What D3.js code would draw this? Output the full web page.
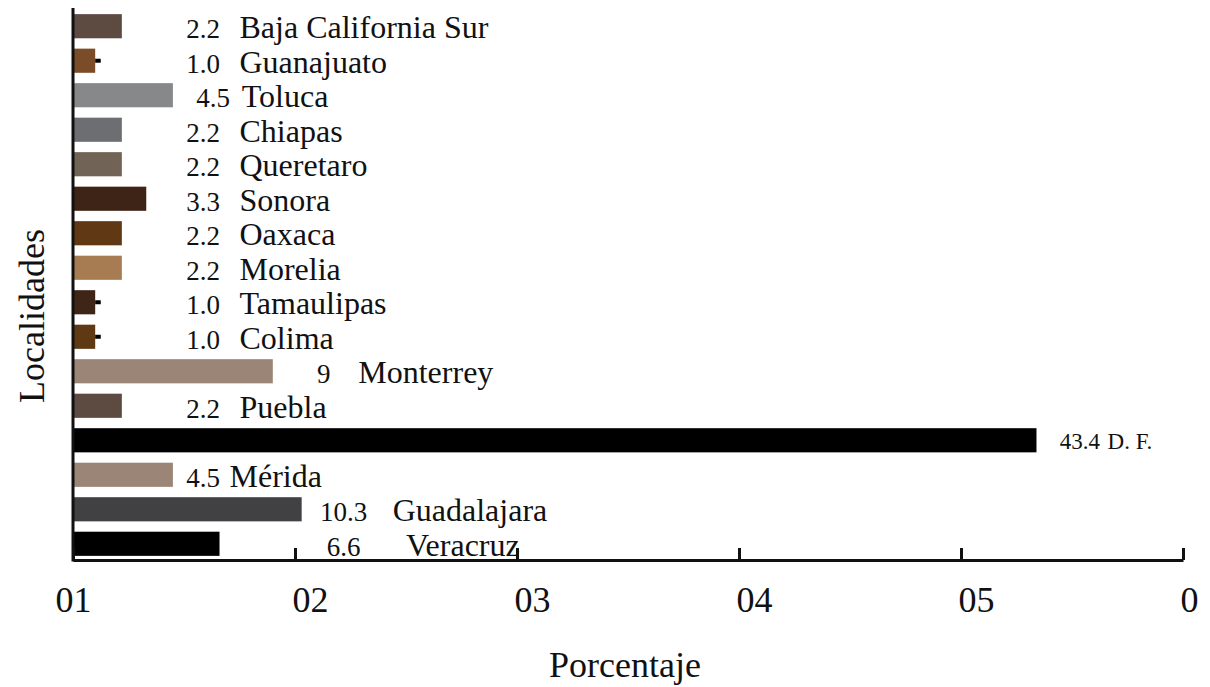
<!doctype html>
<html>
  <head>
    <script src="https://cdnjs.cloudflare.com/ajax/libs/d3/7.8.5/d3.min.js"></script>
    <style>
      body { margin: 0; background: #fff; }
      text {
        font-family: "Liberation Serif", "DejaVu Serif", serif;
        fill: #111;
      }
      .domain, .tick line { stroke: #111; stroke-width: 3px; }
    </style>
  </head>
  <body>
    <svg id="chart" width="1210" height="687"></svg>
    <script>
      // data, top to bottom as drawn
      var localidades = ["Baja California Sur", "Guanajuato", "Toluca", "Chiapas", "Queretaro",
        "Sonora", "Oaxaca", "Morelia", "Tamaulipas", "Colima", "Monterrey", "Puebla",
        "D. F.", "Mérida", "Guadalajara", "Veracruz"];
      var porcentaje = [2.2, 1.0, 4.5, 2.2, 2.2, 3.3, 2.2, 2.2, 1.0, 1.0, 9, 2.2, 43.4, 4.5, 10.3, 6.6];
      var valueText = ["2.2", "1.0", "4.5", "2.2", "2.2", "3.3", "2.2", "2.2", "1.0", "1.0", "9", "2.2", "43.4", "4.5", "10.3", "6.6"];
      var errores = [0, 0.25, 0, 0, 0, 0, 0, 0, 0.25, 0.25, 0, 0, 0, 0, 0, 0];
      var tickValues = [0, 10, 20, 30, 40, 50];
      var tickLabels = ["01", "02", "03", "04", "05", "0"];

      var colores = ["#5d4b42", "#7a4c28", "#87888a", "#6d6e72", "#716457", "#3e2416",
        "#603813", "#a77c52", "#3f2517", "#5f3814", "#9a8577", "#5d4b42",
        "#000000", "#9a8577", "#414042", "#000000"];

      // where the value / name notes sit (in % units), default for short bars
      var notaDefault = { valor: 6.62, nombre: 7.5 };
      var notaEspecial = {
        "Toluca":      { valor: 7.07, nombre: 7.6 },
        "Monterrey":   { valor: 11.6, nombre: 12.85 },
        "D. F.":       { valor: 46.26, nombre: 46.6, small: true },
        "Mérida":      { valor: 6.62, nombre: 7.05 },
        "Guadalajara": { valor: 13.25, nombre: 14.4 },
        "Veracruz":    { valor: 12.95, nombre: 15.0 }
      };

      var svg = d3.select("#chart");

      var x = d3.scaleLinear().domain([0, 50]).range([73, 1183]);
      var y = d3.scaleBand().domain(localidades).range([10, 560])
        .paddingInner(0.3).paddingOuter(0.12);

      var rows = localidades.map((d, i) => ({
        name: d, value: porcentaje[i], text: valueText[i], err: errores[i], color: colores[i]
      }));

      svg.append("g").selectAll("rect")
        .data(rows).enter()
        .append("rect")
          .attr("x", x(0))
          .attr("y", d => y(d.name))
          .attr("width", d => x(d.value) - x(0))
          .attr("height", y.bandwidth())
          .attr("fill", d => d.color);

      // small whiskers
      svg.append("g").selectAll("line")
        .data(rows.filter(d => d.err > 0)).enter()
        .append("line")
          .attr("x1", d => x(d.value))
          .attr("x2", d => x(d.value + d.err))
          .attr("y1", d => y(d.name) + y.bandwidth() / 2)
          .attr("y2", d => y(d.name) + y.bandwidth() / 2)
          .attr("stroke", "#000")
          .attr("stroke-width", 4);

      var notas = svg.append("g").selectAll("g")
        .data(rows).enter()
        .append("g")
          .attr("transform", d => `translate(0,${y(d.name) + y.bandwidth()})`);

      notas.append("text")
        .attr("x", d => x((notaEspecial[d.name] || notaDefault).valor))
        .attr("y", d => (notaEspecial[d.name] || {}).small ? -3 : 0)
        .style("text-anchor", "end")
        .style("font-size", d => (notaEspecial[d.name] || {}).small ? "23px" : "27px")
        .text(d => d.text);

      notas.append("text")
        .attr("x", d => x((notaEspecial[d.name] || notaDefault).nombre))
        .attr("y", d => (notaEspecial[d.name] || {}).small ? -3 : 0)
        .style("text-anchor", "start")
        .style("font-size", d => (notaEspecial[d.name] || {}).small ? "23px" : "32px")
        .text(d => d.name);

      // axes
      var xAxis = d3.axisBottom(x)
        .tickValues(tickValues)
        .tickFormat((d, i) => tickLabels[i])
        .tickSizeInner(-12)
        .tickSizeOuter(0);

      var gx = svg.append("g")
        .attr("transform", "translate(0,560)")
        .call(xAxis);

      gx.selectAll(".tick text")
        .attr("y", 52)
        .attr("dy", 0)
        .attr("dx", (d, i) => i === 0 ? -18 : -3)
        .style("text-anchor", "start")
        .style("font-size", "36px")
        .style("fill", "#111");

      svg.append("line")
        .attr("x1", x(0)).attr("x2", x(0))
        .attr("y1", 8).attr("y2", 561.5)
        .attr("stroke", "#111")
        .attr("stroke-width", 3);

      svg.append("text")
        .attr("x", 625).attr("y", 677)
        .style("text-anchor", "middle")
        .style("font-size", "36px")
        .text("Porcentaje");

      svg.append("text")
        .attr("transform", "translate(44,316) rotate(-90)")
        .style("text-anchor", "middle")
        .style("font-size", "36px")
        .text("Localidades");
    </script>
  </body>
</html>
